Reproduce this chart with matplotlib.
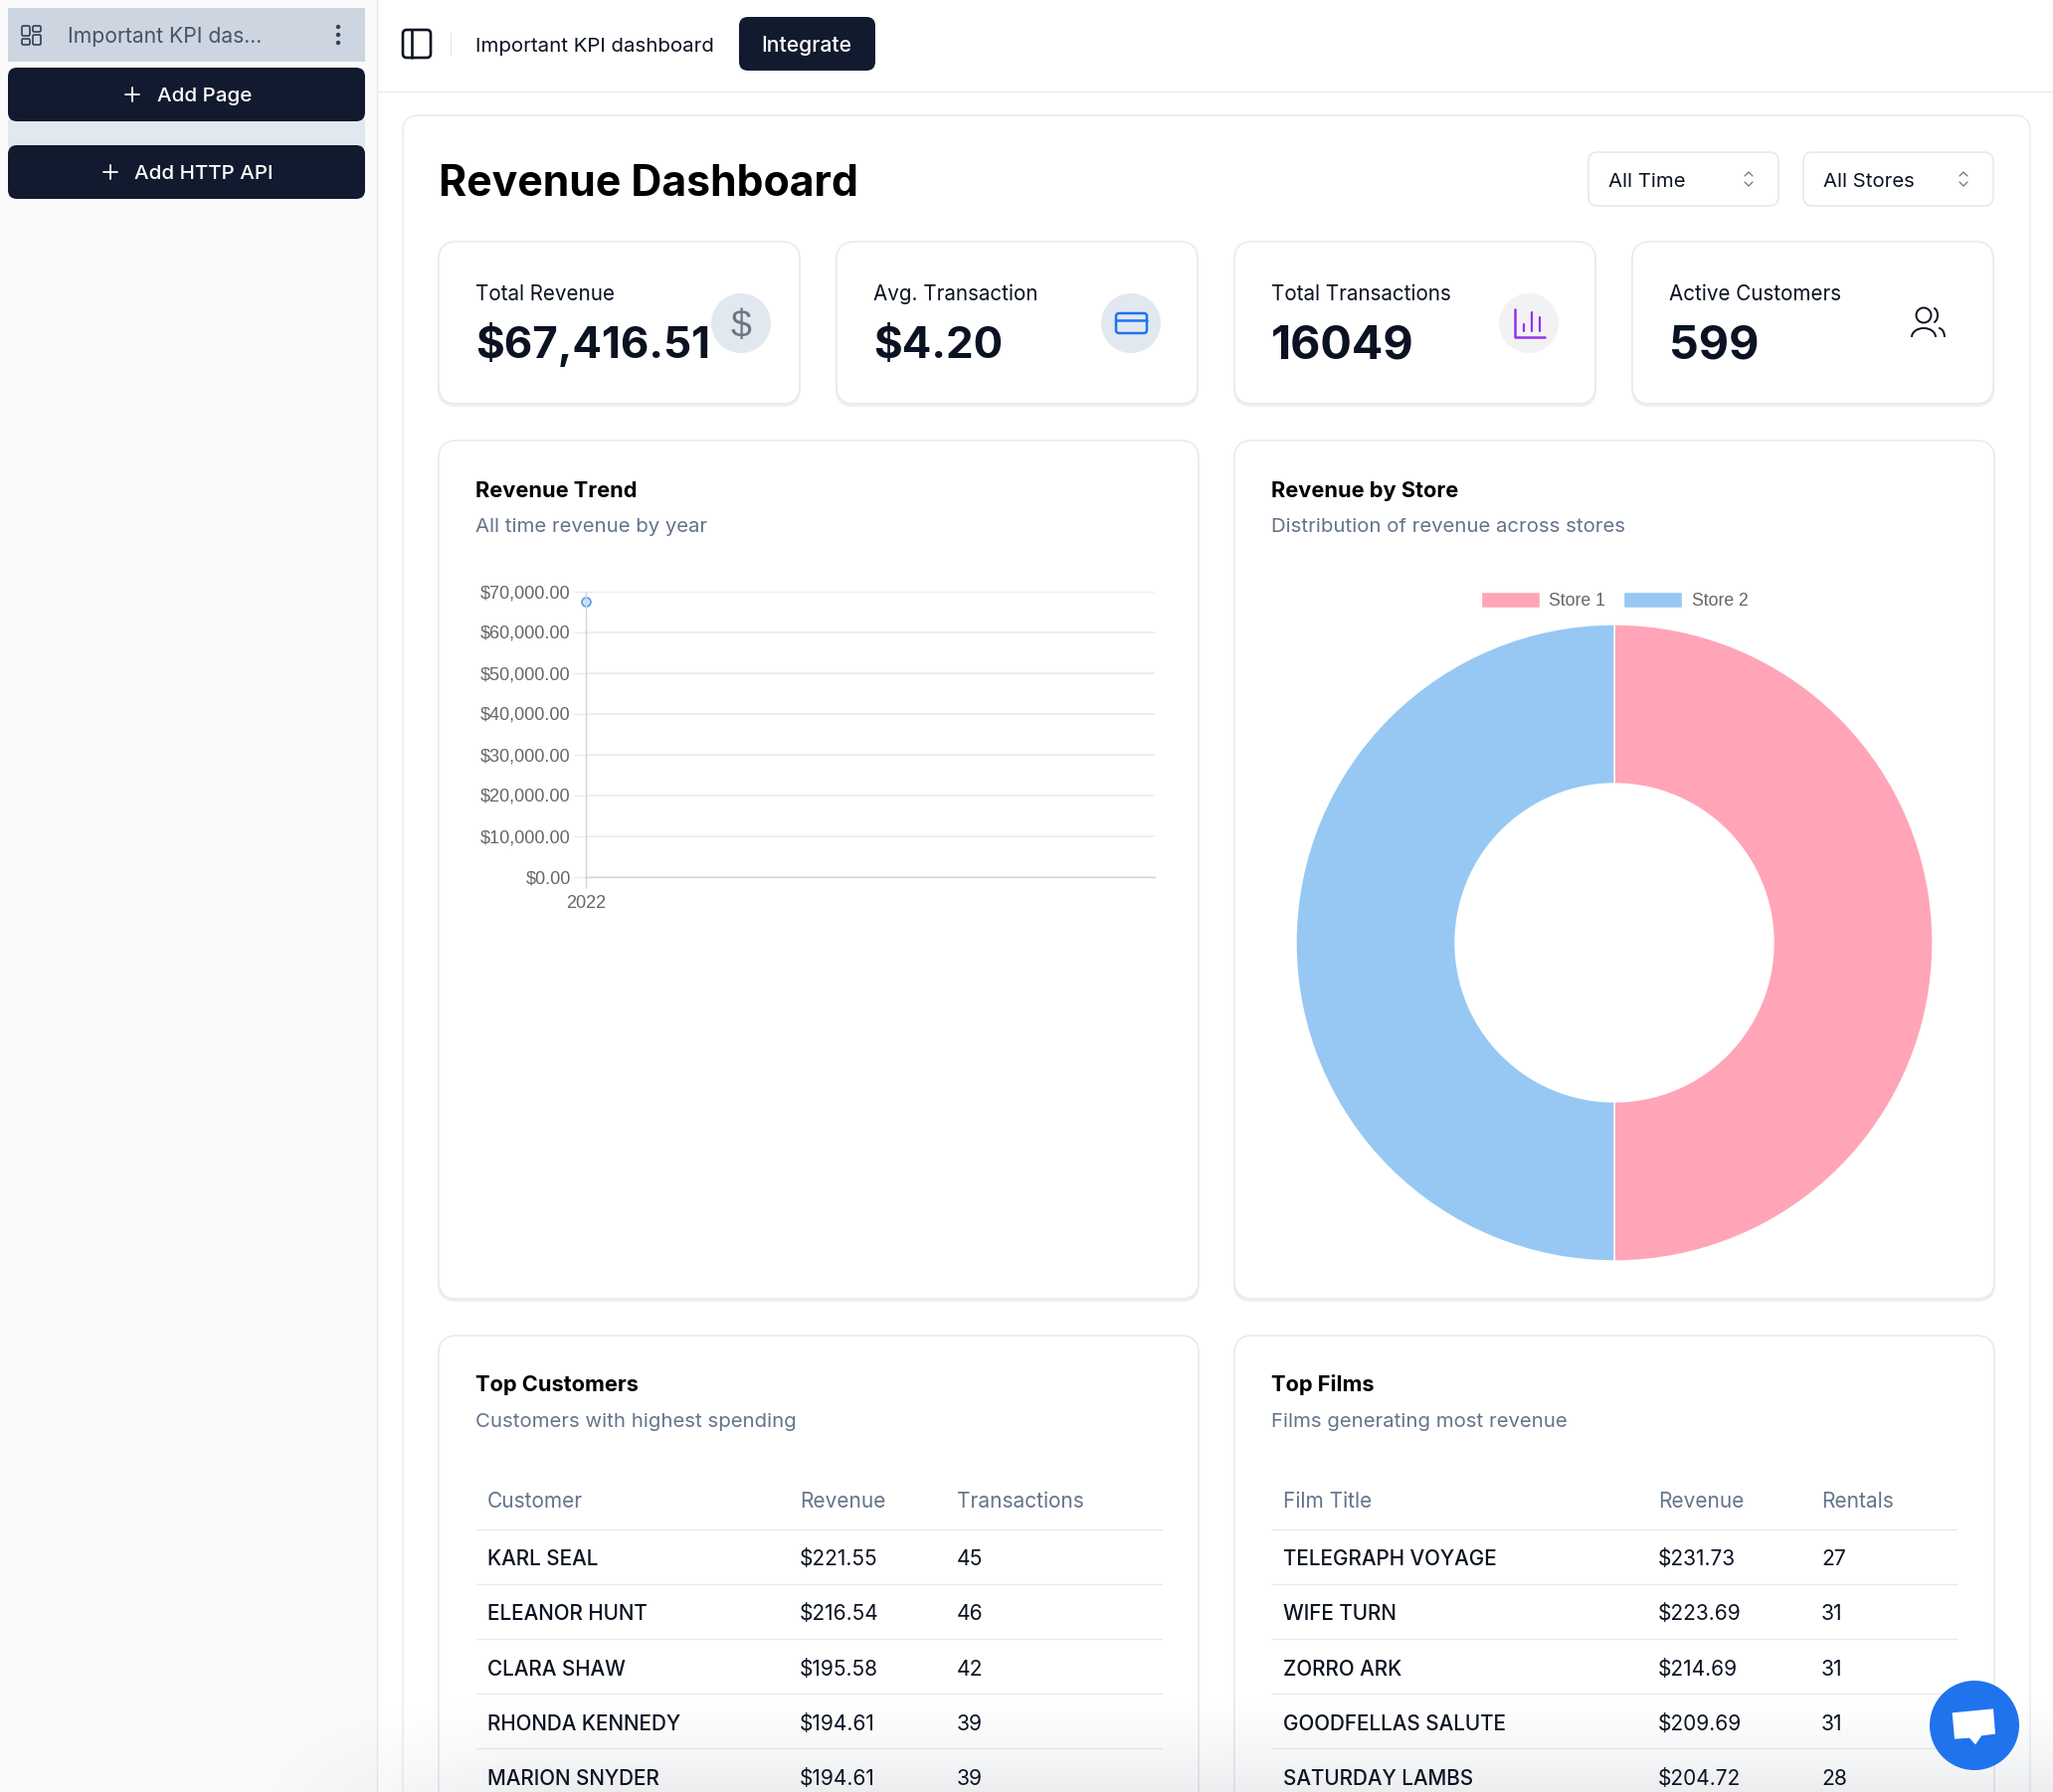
#!/usr/bin/env python3
import numpy as np
import matplotlib
matplotlib.use("Agg")
import matplotlib.pyplot as plt
from matplotlib.patches import FancyBboxPatch, Circle, Arc, Polygon, Rectangle

W, H = 2064, 1802
plt.rcParams["font.family"] = ["Inter", "DejaVu Sans"]

# dane
kpi_labels = ["Total Revenue", "Avg. Transaction", "Total Transactions", "Active Customers"]
kpi_values = ["$67,416.51", "$4.20", "16049", "599"]

trend_years = [2022]
trend_revenue = [67416.51]
trend_ticks = [0, 10000, 20000, 30000, 40000, 50000, 60000, 70000]

store_labels = ["Store 1", "Store 2"]
store_revenue = [33700, 33700]
store_colors = ["#ffa5b7", "#96c8f3"]

cust_header = ["Customer", "Revenue", "Transactions"]
cust_names = ["KARL SEAL", "ELEANOR HUNT", "CLARA SHAW", "RHONDA KENNEDY", "MARION SNYDER"]
cust_revenue = ["$221.55", "$216.54", "$195.58", "$194.61", "$194.61"]
cust_trans = ["45", "46", "42", "39", "39"]

film_header = ["Film Title", "Revenue", "Rentals"]
film_names = ["TELEGRAPH VOYAGE", "WIFE TURN", "ZORRO ARK", "GOODFELLAS SALUTE", "SATURDAY LAMBS"]
film_revenue = ["$231.73", "$223.69", "$214.69", "$209.69", "$204.72"]
film_rentals = ["27", "31", "31", "31", "28"]

NAVY = "#111a2e"
BORDER = "#e6eaf0"
MUTED = "#64748b"
INK = "#0b1222"
BLUE = "#1f73ed"


def px_axes(fig, z):
    ax = fig.add_axes([0, 0, 1, 1], zorder=z)
    ax.set_xlim(0, W)
    ax.set_ylim(H, 0)
    ax.axis("off")
    ax.patch.set_alpha(0)
    return ax


def box(ax, x0, y0, x1, y1, r=14, fc="white", ec="none", lw=1.0, z=1):
    p = FancyBboxPatch((x0, y0), x1 - x0, y1 - y0,
                       boxstyle=f"round,pad=0,rounding_size={r}",
                       fc=fc, ec=ec, lw=lw, zorder=z)
    ax.add_patch(p)
    return p


def card(ax, x0, y0, x1, y1, r=18):
    # cien pod karta
    box(ax, x0 - 1, y0 + 1, x1 + 1, y1 + 3, r=r, fc="#edf0f4", z=1)
    box(ax, x0, y0, x1, y1, r=r, fc="white", ec=BORDER, lw=1.1, z=2)


def txt(ax, x, y, s, size=15, color=INK, weight="normal", ha="left", **kw):
    # y = srodek wielkich liter, linia bazowa nizej o pol wysokosci kapitalik
    return ax.text(x, y + 0.505 * size, s, fontsize=size, color=color, fontweight=weight,
                   ha=ha, va="baseline", zorder=6, **kw)


def line(ax, xs, ys, color, lw=1.0, z=5):
    ax.plot(xs, ys, color=color, lw=lw, zorder=z, solid_capstyle="round")


def plus(ax, x, y, color="white"):
    line(ax, [x - 7, x + 7], [y, y], color, 1.3)
    line(ax, [x, x], [y - 7, y + 7], color, 1.3)


def table(ax, x0, x1, cols, header, c1, c2, c3):
    for x, h in zip(cols, header):
        txt(ax, x, 1508, h, size=15, color=MUTED)
    line(ax, [x0, x1], [1538, 1538], BORDER, 1.0)
    row_y = [1566, 1621, 1677, 1732, 1787]
    row_line = [1593, 1648, 1703, 1758]
    for y, a, b, c in zip(row_y, c1, c2, c3):
        txt(ax, cols[0], y, a, size=14.9, weight="medium")
        txt(ax, cols[1], y, b, size=15)
        txt(ax, cols[2], y, c, size=15.2)
    for y in row_line:
        line(ax, [x0, x1], [y, y], BORDER, 1.0)


fig = plt.figure(figsize=(W / 100, H / 100), dpi=100, facecolor="white")
bg = px_axes(fig, 0)

# pasek boczny
bg.add_patch(Rectangle((0, 0), 379, H, fc="#fafafa", ec="none", zorder=0))
line(bg, [379, 379], [0, H], "#e8eaee", 1.0, z=1)
bg.add_patch(Rectangle((8, 8), 359, 54, fc="#cdd5e1", ec="none", zorder=1))
bg.add_patch(Rectangle((8, 120), 359, 28, fc="#e2e8f0", ec="none", zorder=1))
box(bg, 8, 68, 367, 122, r=9, fc=NAVY, z=2)
box(bg, 8, 146, 367, 200, r=9, fc=NAVY, z=2)
for bx, by, bw, bh in [(22, 26, 8, 10), (33, 26, 8, 6), (22, 39, 8, 6), (33, 35, 8, 10)]:
    bg.add_patch(FancyBboxPatch((bx, by), bw, bh, boxstyle="round,pad=0,rounding_size=1.5",
                                fc="none", ec="#334155", lw=1.2, zorder=5))
txt(bg, 68, 35.5, "Important KPI das...", size=15.2, color="#475569")
for dy in [27, 35, 43]:
    bg.add_patch(Circle((340, dy), 2.2, fc="#334155", ec="none", zorder=5))
plus(bg, 133, 95)
txt(bg, 158, 95, "Add Page", size=14.8, color="white", weight="medium")
plus(bg, 111, 173)
txt(bg, 135, 173, "Add HTTP API", size=14.8, color="white", weight="medium")

# naglowek
line(bg, [379, W], [91.5, 91.5], "#e8eaee", 1.0, z=1)
box(bg, 405, 30, 433, 58, r=4, fc="none", ec="#0b1222", lw=1.9, z=5)
line(bg, [414, 414], [30, 58], "#0b1222", 1.9)
line(bg, [453, 453], [33, 55], "#e2e8f0", 1.0)
txt(bg, 478, 44.5, "Important KPI dashboard", size=14.7)
box(bg, 743, 17, 880, 71, r=9, fc=NAVY, z=2)
txt(bg, 811, 44.5, "Integrate", size=15.2, color="white", weight="medium", ha="center")

# glowna karta
box(bg, 405, 116, 2041, 1900, r=16, fc="white", ec="#e8ecf2", lw=1.1, z=1)
txt(bg, 441, 181, "Revenue Dashboard", size=30.8, color="black", weight="bold")
for x0, label in [(1597, "All Time"), (1813, "All Stores")]:
    box(bg, x0, 153, x0 + 191, 207, r=9, fc="white", ec="#e2e8f0", lw=1.1, z=2)
    txt(bg, x0 + 20, 181, label, size=14.6)
    cx = x0 + 161
    line(bg, [cx - 4, cx, cx + 4], [177, 173, 177], "#64748b", 0.9)
    line(bg, [cx - 4, cx, cx + 4], [183, 187, 183], "#64748b", 0.9)

# karty KPI
for x0, lab, val in zip([441, 841, 1241, 1641], kpi_labels, kpi_values):
    card(bg, x0, 243, x0 + 363, 406)
    txt(bg, x0 + 37, 295, lab, size=14.85)
    # kwoty w oryginale sa wezsze niz same cyfry
    txt(bg, x0 + 37, 344, val, size=31.6 if val.startswith("$") else 33.6, weight="bold")

# ikony
bg.add_patch(Circle((745, 325), 30, fc="#e2e8f0", ec="none", zorder=4))
txt(bg, 745, 325, "$", size=27, color="#6b7680", ha="center", family=["Liberation Sans"])
bg.add_patch(Circle((1137, 325), 30, fc="#e2e8f0", ec="none", zorder=4))
box(bg, 1122, 315, 1153, 335, r=3, fc="none", ec=BLUE, lw=1.8, z=5)
line(bg, [1122, 1153], [322, 322], BLUE, 1.8)
bg.add_patch(Circle((1537, 325), 30, fc="#f2f2f5", ec="none", zorder=4))
line(bg, [1523, 1523, 1553], [311, 339, 339], "#9333ea", 1.8)
for bx_, top_y in [(1532, 326), (1540, 314), (1548, 319)]:
    line(bg, [bx_, bx_], [top_y, 333], "#9333ea", 1.6)
bg.add_patch(Circle((1934, 317), 7.5, fc="none", ec=INK, lw=1.4, zorder=5))
bg.add_patch(Arc((1934, 339), 24, 18, theta1=180, theta2=360, ec=INK, lw=1.4, zorder=5))
bg.add_patch(Arc((1943, 317), 10, 15, theta1=-80, theta2=80, ec=INK, lw=1.4, zorder=5))
bg.add_patch(Arc((1949, 339), 12, 18, theta1=270, theta2=360, ec=INK, lw=1.4, zorder=5))

# karty wykresow
for x0, title, sub in [(441, "Revenue Trend", "All time revenue by year"),
                       (1241, "Revenue by Store", "Distribution of revenue across stores")]:
    card(bg, x0, 443, x0 + 764, 1306)
    txt(bg, x0 + 37, 492.5, title, size=15.7, color="black", weight="bold")
    txt(bg, x0 + 37, 528, sub, size=14.65, color=MUTED)

# wykres liniowy
ax = fig.add_axes([589 / W, 1 - 881.5 / H, (1161 - 589) / W, (881.5 - 594.5) / H], zorder=3)
ax.patch.set_alpha(0)
ax.plot(trend_years, trend_revenue, marker="o", ms=6.5, mfc="#cfe2f9", mec="#5a9bea", mew=1.2,
        lw=0, clip_on=False)
ax.set_xlim(trend_years[0], trend_years[0] + 1)
ax.set_ylim(trend_ticks[0], trend_ticks[-1])
ax.set_xticks(trend_years, [str(y) for y in trend_years])
ax.set_yticks(trend_ticks, [f"${v:,.2f}" for v in trend_ticks])
ax.grid(axis="y", color="#e9e9e9", lw=1.1)
ax.set_axisbelow(True)
for s in ["top", "right"]:
    ax.spines[s].set_visible(False)
for s in ["left", "bottom"]:
    ax.spines[s].set_color("#cfd6e0")
    ax.spines[s].set_linewidth(1.0)
ax.tick_params(axis="y", length=8.5, width=1.0, color="#e9e9e9", pad=2.5)
ax.tick_params(axis="x", length=8, width=1.0, color="#cfd6e0", pad=5)
for lab in ax.get_xticklabels() + ax.get_yticklabels():
    lab.set_family(["Liberation Sans"])
    lab.set_fontsize(13.1)
    lab.set_color("#666666")
for lab in ax.get_yticklabels():
    lab.set_verticalalignment("center_baseline")

# donut
R = 320
ax2 = fig.add_axes([(1623 - R) / W, 1 - (948 + R) / H, 2 * R / W, 2 * R / H], zorder=3)
wedges, _ = ax2.pie(store_revenue, colors=store_colors, startangle=90, counterclock=False,
                    radius=1.0, wedgeprops=dict(width=0.5, edgecolor="white", linewidth=1.0))
ax2.set_xlim(-1, 1)
ax2.set_ylim(-1, 1)
leg = fig.legend(wedges, store_labels, loc="center", bbox_to_anchor=(1623 / W, 1 - 604 / H), ncols=2,
                 frameon=False, handlelength=3.35, handleheight=1.0,
                 handletextpad=0.55, columnspacing=1.0, borderpad=0,
                 prop={"family": ["Liberation Sans"], "size": 12.7}, labelcolor="#666666")

# tabele
for x0, title, sub in [(441, "Top Customers", "Customers with highest spending"),
                       (1241, "Top Films", "Films generating most revenue")]:
    card(bg, x0, 1343, x0 + 764, 1900)
    txt(bg, x0 + 37, 1391.5, title, size=15.7, color="black", weight="bold")
    txt(bg, x0 + 37, 1427.5, sub, size=14.65, color=MUTED)
table(bg, 479, 1168, [490, 804, 962], cust_header, cust_names, cust_revenue, cust_trans)
table(bg, 1278, 1967, [1290, 1667, 1831], film_header, film_names, film_revenue, film_rentals)

# zanikanie przy dolnej krawedzi + przycisk czatu
top = px_axes(fig, 10)
yy = np.linspace(0, 1, 110)[:, None]
xx = np.linspace(0, W, 400)[None, :]
fade = np.zeros((110, 400, 4))
fade[..., 0] = 30 / 255
fade[..., 1] = 40 / 255
fade[..., 2] = 70 / 255
fade[..., 3] = 0.085 * yy ** 1.6 * np.clip((xx - 250) / 300, 0, 1)
top.imshow(fade, extent=(0, W, 1802, 1692), aspect="auto", zorder=1, interpolation="bilinear")
top.set_xlim(0, W)
top.set_ylim(H, 0)
top.add_patch(Circle((1985, 1735), 45, fc=BLUE, ec="none", zorder=3))
bubble = np.array([(788, 367), (912, 355), (918, 431), (877, 436), (858, 463),
                   (840, 443), (795, 446)]) / 3 + np.array([1700, 1600])
top.add_patch(Polygon(bubble, closed=True, fc="white", ec="none", zorder=4))

fig.savefig("out.png", dpi=100)
